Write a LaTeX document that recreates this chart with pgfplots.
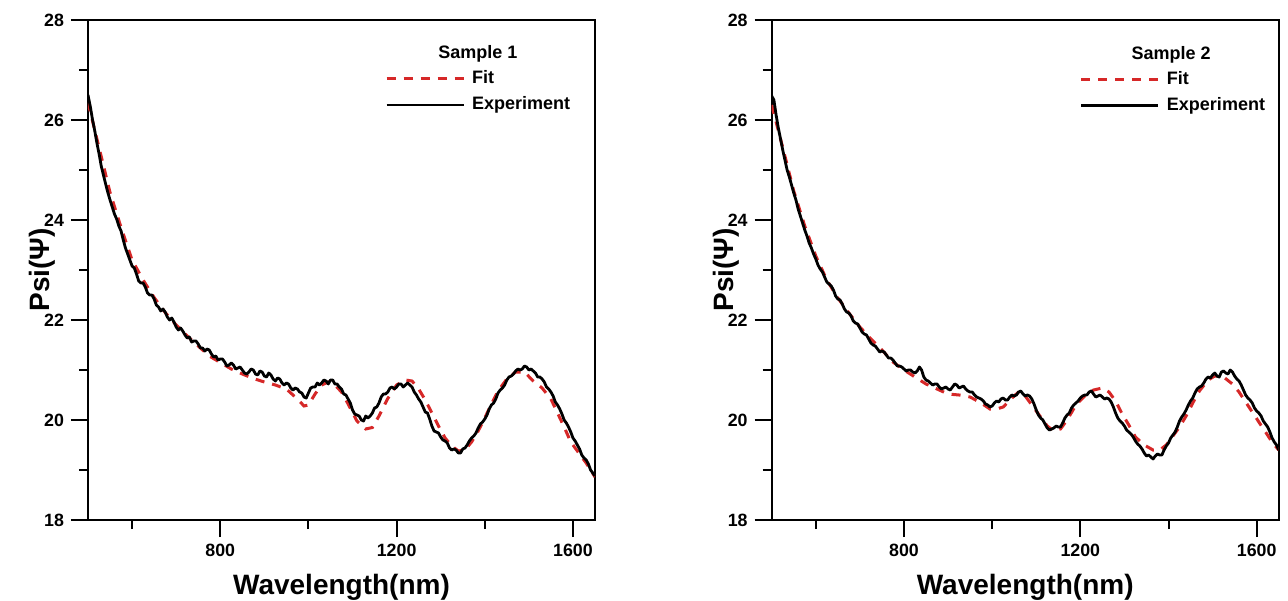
\documentclass[border=0pt]{standalone}
\usepackage{fontspec}
\setmainfont{Liberation Sans}
\usepackage{pgfplots}
\usepackage{pgfplotstable}
\pgfplotsset{compat=1.18}
\definecolor{fitred}{RGB}{214,40,40}

\pgfplotstableread{
x y
500 26.50
505 26.28
510 26.02
515 25.80
520 25.55
525 25.33
530 25.08
535 24.90
540 24.72
545 24.55
550 24.40
555 24.26
560 24.12
565 24.02
570 23.88
575 23.78
580 23.60
585 23.44
590 23.32
595 23.20
600 23.08
605 23.04
610 22.92
615 22.78
620 22.74
625 22.74
630 22.66
635 22.54
640 22.50
645 22.50
650 22.42
655 22.30
660 22.26
665 22.18
670 22.22
675 22.16
680 22.06
685 22.00
690 22.04
695 21.96
700 21.86
705 21.80
710 21.84
715 21.78
720 21.70
725 21.64
730 21.66
735 21.56
740 21.58
745 21.58
750 21.52
755 21.44
760 21.44
765 21.38
770 21.42
775 21.40
780 21.32
785 21.26
790 21.28
795 21.20
800 21.22
805 21.22
810 21.16
815 21.08
820 21.10
825 21.14
830 21.10
835 21.02
840 21.04
845 21.06
850 21.00
855 20.94
860 20.92
865 20.96
870 21.02
875 21.00
880 20.92
885 20.90
890 20.98
895 20.96
900 20.88
905 20.86
910 20.94
915 20.90
920 20.82
925 20.78
930 20.84
935 20.82
940 20.74
945 20.70
950 20.74
955 20.72
960 20.64
965 20.60
970 20.64
975 20.62
980 20.56
985 20.54
990 20.46
995 20.44
1000 20.54
1005 20.64
1010 20.66
1015 20.66
1020 20.74
1025 20.70
1030 20.74
1035 20.80
1040 20.78
1045 20.72
1050 20.80
1055 20.80
1060 20.72
1065 20.72
1070 20.66
1075 20.62
1080 20.52
1085 20.50
1090 20.42
1095 20.34
1100 20.20
1105 20.12
1110 20.10
1115 20.08
1120 20.00
1125 19.98
1130 20.08
1135 20.04
1140 20.08
1145 20.14
1150 20.24
1155 20.26
1160 20.34
1165 20.46
1170 20.52
1175 20.52
1180 20.56
1185 20.64
1190 20.66
1195 20.62
1200 20.66
1205 20.72
1210 20.72
1215 20.66
1220 20.70
1225 20.74
1230 20.70
1235 20.66
1240 20.56
1245 20.50
1250 20.42
1255 20.36
1260 20.26
1265 20.16
1270 20.14
1275 20.02
1280 19.88
1285 19.78
1290 19.76
1295 19.74
1300 19.66
1305 19.60
1310 19.58
1315 19.54
1320 19.44
1325 19.40
1330 19.42
1335 19.40
1340 19.34
1345 19.34
1350 19.42
1355 19.44
1360 19.50
1365 19.58
1370 19.64
1375 19.68
1380 19.74
1385 19.84
1390 19.92
1395 19.96
1400 20.02
1405 20.10
1410 20.22
1415 20.30
1420 20.34
1425 20.42
1430 20.54
1435 20.60
1440 20.64
1445 20.70
1450 20.80
1455 20.86
1460 20.88
1465 20.92
1470 20.98
1475 21.02
1480 21.00
1485 21.02
1490 21.08
1495 21.06
1500 21.00
1505 21.02
1510 20.98
1515 20.94
1520 20.86
1525 20.86
1530 20.82
1535 20.76
1540 20.66
1545 20.62
1550 20.56
1555 20.48
1560 20.36
1565 20.30
1570 20.22
1575 20.12
1580 20.00
1585 19.94
1590 19.86
1595 19.76
1600 19.64
1605 19.58
1610 19.50
1615 19.42
1620 19.30
1625 19.24
1630 19.20
1635 19.12
1640 19.00
1645 18.94
1650 18.88
}\expA

\pgfplotstableread{
x y
500 26.35
525 25.45
550 24.55
575 23.85
600 23.20
625 22.80
650 22.45
675 22.15
700 21.90
725 21.68
750 21.48
775 21.28
800 21.15
825 21.02
850 20.92
875 20.83
900 20.76
925 20.70
950 20.62
975 20.42
990 20.28
1000 20.30
1015 20.52
1030 20.70
1045 20.76
1060 20.70
1075 20.56
1090 20.32
1110 19.98
1130 19.82
1145 19.85
1160 20.08
1180 20.43
1200 20.70
1220 20.80
1235 20.78
1250 20.62
1265 20.40
1280 20.14
1295 19.88
1310 19.64
1325 19.48
1340 19.38
1355 19.40
1370 19.56
1385 19.78
1400 20.04
1415 20.32
1430 20.58
1450 20.82
1470 20.96
1490 20.96
1510 20.78
1530 20.64
1550 20.42
1565 20.14
1580 19.86
1595 19.56
1610 19.38
1630 19.14
1650 18.86
}\fitA

\pgfplotstableread{
x y
500 26.48
505 26.40
510 26.10
515 25.84
520 25.62
525 25.40
530 25.20
535 25.00
540 24.86
545 24.70
550 24.54
555 24.40
560 24.22
565 24.08
570 23.94
575 23.80
580 23.68
585 23.54
590 23.44
595 23.32
600 23.22
605 23.10
610 23.02
615 22.96
620 22.86
625 22.76
630 22.72
635 22.68
640 22.60
645 22.48
650 22.42
655 22.40
660 22.32
665 22.22
670 22.16
675 22.14
680 22.08
685 21.98
690 21.94
695 21.92
700 21.84
705 21.76
710 21.72
715 21.70
720 21.62
725 21.54
730 21.50
735 21.48
740 21.42
745 21.36
750 21.38
755 21.36
760 21.30
765 21.24
770 21.24
775 21.20
780 21.14
785 21.08
790 21.08
795 21.06
800 21.02
805 20.98
810 21.00
815 21.00
820 20.96
825 20.94
830 20.98
835 21.06
840 21.00
845 20.86
850 20.80
855 20.78
860 20.74
865 20.70
870 20.72
875 20.72
880 20.66
885 20.62
890 20.64
895 20.66
900 20.62
905 20.60
910 20.66
915 20.72
920 20.70
925 20.64
930 20.66
935 20.68
940 20.62
945 20.58
950 20.56
955 20.56
960 20.50
965 20.46
970 20.44
975 20.42
980 20.38
985 20.32
990 20.30
995 20.26
1000 20.28
1005 20.34
1010 20.38
1015 20.36
1020 20.42
1025 20.44
1030 20.40
1035 20.40
1040 20.46
1045 20.50
1050 20.48
1055 20.50
1060 20.56
1065 20.58
1070 20.52
1075 20.48
1080 20.50
1085 20.48
1090 20.42
1095 20.32
1100 20.20
1105 20.10
1110 20.04
1115 20.00
1120 19.92
1125 19.84
1130 19.80
1135 19.82
1140 19.84
1145 19.88
1150 19.86
1155 19.86
1160 19.94
1165 20.04
1170 20.10
1175 20.14
1180 20.24
1185 20.30
1190 20.34
1195 20.38
1200 20.44
1205 20.48
1210 20.50
1215 20.50
1220 20.56
1225 20.58
1230 20.52
1235 20.46
1240 20.48
1245 20.50
1250 20.46
1255 20.42
1260 20.44
1265 20.42
1270 20.36
1275 20.26
1280 20.14
1285 20.04
1290 19.98
1295 19.94
1300 19.88
1305 19.80
1310 19.76
1315 19.72
1320 19.66
1325 19.58
1330 19.52
1335 19.48
1340 19.42
1345 19.34
1350 19.28
1355 19.30
1360 19.26
1365 19.22
1370 19.28
1375 19.32
1380 19.30
1385 19.30
1390 19.40
1395 19.48
1400 19.54
1405 19.64
1410 19.70
1415 19.76
1420 19.86
1425 19.98
1430 20.06
1435 20.12
1440 20.20
1445 20.30
1450 20.38
1455 20.44
1460 20.54
1465 20.62
1470 20.66
1475 20.68
1480 20.74
1485 20.82
1490 20.86
1495 20.84
1500 20.90
1505 20.94
1510 20.88
1515 20.86
1520 20.96
1525 20.98
1530 20.94
1535 20.92
1540 21.00
1545 20.96
1550 20.88
1555 20.82
1560 20.78
1565 20.70
1570 20.60
1575 20.50
1580 20.44
1585 20.40
1590 20.34
1595 20.24
1600 20.18
1605 20.14
1610 20.08
1615 19.98
1620 19.92
1625 19.86
1630 19.76
1635 19.64
1640 19.56
1645 19.50
1650 19.40
}\expB

\pgfplotstableread{
x y
500 26.30
525 25.45
550 24.58
575 23.88
600 23.28
625 22.80
650 22.44
675 22.14
700 21.86
725 21.62
750 21.40
775 21.16
800 21.00
825 20.86
850 20.72
875 20.62
900 20.52
925 20.50
950 20.46
975 20.34
995 20.22
1010 20.22
1025 20.26
1045 20.44
1060 20.56
1075 20.48
1090 20.30
1105 20.12
1125 19.88
1140 19.78
1155 19.82
1170 20.00
1190 20.30
1210 20.48
1230 20.60
1250 20.64
1265 20.56
1280 20.38
1295 20.12
1310 19.90
1325 19.66
1345 19.50
1365 19.40
1380 19.40
1395 19.50
1410 19.68
1425 19.86
1440 20.08
1455 20.34
1470 20.58
1490 20.80
1505 20.88
1525 20.86
1545 20.72
1560 20.56
1575 20.36
1590 20.16
1605 19.96
1620 19.76
1635 19.56
1650 19.40
}\fitB

\pgfplotsset{
  psistyle/.style={
    scale only axis, width=253.5pt, height=250pt,
    xmin=500, xmax=1650, ymin=18, ymax=28,
    xtick={800,1200,1600}, minor xtick={600,1000,1400},
    ytick={18,20,...,28}, minor ytick={19,21,...,27},
    xtick pos=bottom, ytick pos=left,
    tick align=outside,
    major tick length=8.5pt, minor tick length=4.5pt,
    axis line style={line width=1pt},
    tick style={line width=1pt, black},
    /pgf/number format/assume math mode=true,
    /pgf/number format/1000 sep={},
    tick label style={font=\bfseries\fontsize{8.9}{10}\selectfont},
    label style={font=\bfseries\fontsize{14}{16}\selectfont},
    xlabel={Wavelength(nm)}, ylabel={Psi(Ψ)},
    xlabel style={at={(axis description cs:0.5,-0.148)}, anchor=base},
    ylabel style={at={(axis description cs:-0.075,0.5)}, anchor=base},
    legend style={draw=none, fill=none, inner sep=0pt, outer sep=0pt,
      font=\bfseries\fontsize{9}{10}\selectfont, row sep=1pt, column sep=2pt,
      nodes={text height=7pt, text depth=2pt, inner sep=1.5pt}},
    legend cell align=left,
    legend image code/.code={\draw[##1] (0pt,0pt) -- (38.5pt,0pt);},
  },
  fitstyle/.style={fitred, line width=1.5pt, dash pattern=on 4.5pt off 4pt},
  expstyle/.style={black, line width=1.4pt, line join=round},
}

\begin{document}
\begin{tikzpicture}
\useasboundingbox (-44pt,-40pt) rectangle (600pt,260pt);
\begin{axis}[psistyle, at={(0pt,0pt)}, anchor=south west,
  legend style={at={(axis description cs:0.586,0.906)}, anchor=north west}]
\addplot[fitstyle] table[x=x,y=y] {\fitA};
\addlegendentry{Fit}
\addplot[expstyle] table[x=x,y=y] {\expA};
\addlegendentry{Experiment}
\node[font=\bfseries\fontsize{9}{10}\selectfont] at (axis description cs:0.769,0.932) {Sample 1};
\end{axis}
\begin{axis}[psistyle, at={(341.85pt,0pt)}, anchor=south west,
  legend style={at={(axis description cs:0.608,0.905)}, anchor=north west}]
\addplot[fitstyle] table[x=x,y=y] {\fitB};
\addlegendentry{Fit}
\addplot[expstyle] table[x=x,y=y] {\expB};
\addlegendentry{Experiment}
\node[font=\bfseries\fontsize{9}{10}\selectfont] at (axis description cs:0.788,0.931) {Sample 2};
\end{axis}
\end{tikzpicture}
\end{document}
